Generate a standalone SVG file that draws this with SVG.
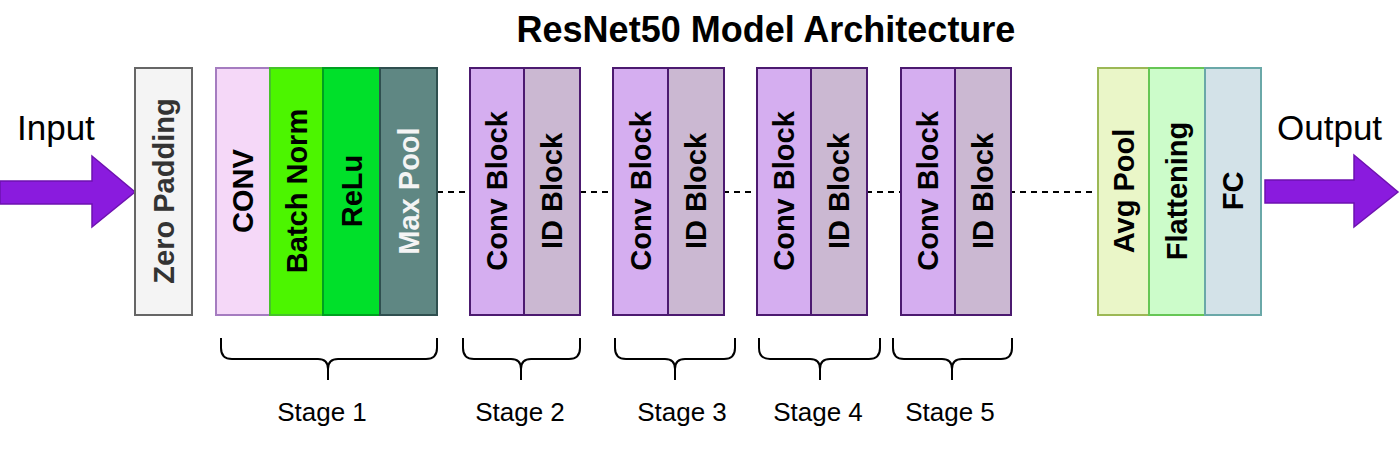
<svg xmlns="http://www.w3.org/2000/svg" width="1400" height="451" viewBox="0 0 1400 451">
<style>
text{font-family:"Liberation Sans",Arial,sans-serif;fill:#000}
.t{font-size:36px;font-weight:bold}
.io{font-size:35px}
.b{font-size:29px;font-weight:bold;text-anchor:middle;dominant-baseline:central}
.st{font-size:26px;text-anchor:middle}
.blk{stroke-width:2}
.brace{fill:none;stroke:#000;stroke-width:2}
.arrow{fill:#8a1bde;stroke:#6e12b0;stroke-width:1.5}
</style>
<rect width="1400" height="451" fill="#fff"/>
<text class="t" x="766" y="42" text-anchor="middle">ResNet50 Model Architecture</text>
<g id="connectors">
<line x1="437" y1="192" x2="1098" y2="192" stroke="#000" stroke-width="2" stroke-dasharray="6 5"/>
</g>
<g id="input">
<polygon class="arrow" points="0,181 92,181 92,156 135,192 92,227 92,204 0,204"/>
<text class="io" x="17" y="140">Input</text>
</g>
<g id="zero-padding">
<rect class="blk" x="135" y="68" width="57" height="247" fill="#f4f4f4" stroke="#666"/>
<text class="b" transform="translate(163.5,191) rotate(-90)" style="fill:#333">Zero  Padding</text>
</g>
<g id="stage1">
<rect class="blk" x="216" y="68" width="54" height="247" fill="#f5d8f8" stroke="#a57cc0"/>
<rect class="blk" x="270" y="68" width="53" height="247" fill="#4cf500" stroke="#46c22a"/>
<rect class="blk" x="323" y="68" width="57" height="247" fill="#00e02a" stroke="#00a020"/>
<rect class="blk" x="380" y="68" width="57" height="247" fill="#5f8783" stroke="#2f4f4f"/>
<text class="b" transform="translate(243,191) rotate(-90)">CONV</text>
<text class="b" transform="translate(296.5,191) rotate(-90)">Batch Norm</text>
<text class="b" transform="translate(351.5,191) rotate(-90)">ReLu</text>
<text class="b" transform="translate(408.5,191) rotate(-90)" style="fill:#f4f4f4">Max Pool</text>
</g>
<g id="stage2">
<rect class="blk" x="470" y="68" width="54" height="247" fill="#d5aef0" stroke="#4c1a70"/>
<rect class="blk" x="524" y="68" width="56" height="247" fill="#cbb8d2" stroke="#4c1a70"/>
<text class="b" transform="translate(497,191) rotate(-90)">Conv Block</text>
<text class="b" transform="translate(552,191) rotate(-90)">ID Block</text>
</g>
<g id="stage3">
<rect class="blk" x="613" y="68" width="55" height="247" fill="#d5aef0" stroke="#4c1a70"/>
<rect class="blk" x="668" y="68" width="56" height="247" fill="#cbb8d2" stroke="#4c1a70"/>
<text class="b" transform="translate(640.5,191) rotate(-90)">Conv Block</text>
<text class="b" transform="translate(696,191) rotate(-90)">ID Block</text>
</g>
<g id="stage4">
<rect class="blk" x="757" y="68" width="54" height="247" fill="#d5aef0" stroke="#4c1a70"/>
<rect class="blk" x="811" y="68" width="56" height="247" fill="#cbb8d2" stroke="#4c1a70"/>
<text class="b" transform="translate(784,191) rotate(-90)">Conv Block</text>
<text class="b" transform="translate(839,191) rotate(-90)">ID Block</text>
</g>
<g id="stage5">
<rect class="blk" x="901" y="68" width="54" height="247" fill="#d5aef0" stroke="#4c1a70"/>
<rect class="blk" x="955" y="68" width="56" height="247" fill="#cbb8d2" stroke="#4c1a70"/>
<text class="b" transform="translate(928,191) rotate(-90)">Conv Block</text>
<text class="b" transform="translate(983,191) rotate(-90)">ID Block</text>
</g>
<g id="head">
<rect class="blk" x="1098" y="68" width="51" height="247" fill="#eaf6c8" stroke="#9cb855"/>
<rect class="blk" x="1149" y="68" width="56" height="247" fill="#ccfcca" stroke="#66c655"/>
<rect class="blk" x="1205" y="68" width="56" height="247" fill="#d3e2e8" stroke="#6aa8a8"/>
<text class="b" transform="translate(1123.5,191) rotate(-90)">Avg Pool</text>
<text class="b" transform="translate(1177,191) rotate(-90)">Flattening</text>
<text class="b" transform="translate(1233,191) rotate(-90)">FC</text>
</g>
<g id="output">
<polygon class="arrow" points="1265,180 1354,180 1354,155 1398,192 1354,227 1354,203 1265,203"/>
<text class="io" x="1277" y="140">Output</text>
</g>
<g id="braces">
<path class="brace" d="M221 338 V348 Q221 359 232 359 H318 Q328 359 328 369 V380 M328 369 Q328 359 338 359 H426 Q437 359 437 348 V338"/>
<path class="brace" d="M463 338 V348 Q463 359 474 359 H511 Q521 359 521 369 V380 M521 369 Q521 359 531 359 H569 Q580 359 580 348 V338"/>
<path class="brace" d="M615 338 V348 Q615 359 626 359 H665 Q675 359 675 369 V380 M675 369 Q675 359 685 359 H724 Q735 359 735 348 V338"/>
<path class="brace" d="M759 338 V348 Q759 359 770 359 H810 Q820 359 820 369 V380 M820 369 Q820 359 830 359 H869 Q880 359 880 348 V338"/>
<path class="brace" d="M893 338 V348 Q893 359 904 359 H942 Q952 359 952 369 V380 M952 369 Q952 359 962 359 H1001 Q1012 359 1012 348 V338"/>
<text class="st" x="322" y="421">Stage 1</text>
<text class="st" x="520" y="421">Stage 2</text>
<text class="st" x="682" y="421">Stage 3</text>
<text class="st" x="818" y="421">Stage 4</text>
<text class="st" x="950" y="421">Stage 5</text>
</g>
</svg>
